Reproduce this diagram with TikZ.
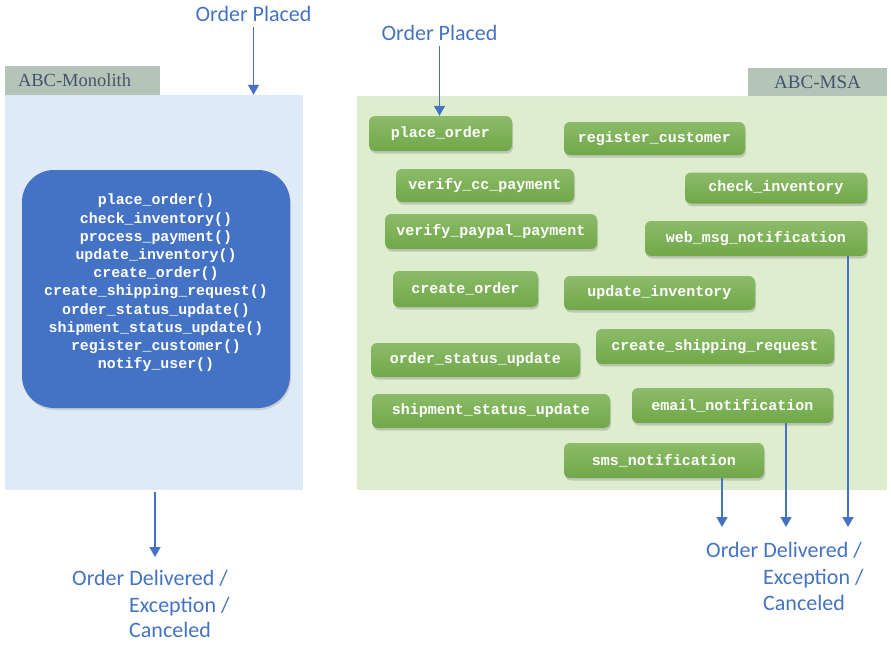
\documentclass[tikz,border=0pt]{standalone}
\usepackage{fontspec}
\setmainfont{Carlito}
\setmonofont{Liberation Mono}
\newfontfamily\tabfont{Liberation Serif}
\usetikzlibrary{arrows.meta,shadows}

\definecolor{panelblue}{RGB}{222,234,246}
\definecolor{panelgreen}{RGB}{222,237,205}
\definecolor{tabgray}{RGB}{181,196,185}
\definecolor{tabtext}{RGB}{68,84,106}
\definecolor{coreblue}{RGB}{68,114,196}
\definecolor{svcgreen}{RGB}{112,168,72}
\definecolor{svcgreentop}{RGB}{140,187,106}
\definecolor{flowblue}{RGB}{68,114,196}

\begin{document}
\begin{tikzpicture}[
  x=1pt,y=-1pt,
  panel/.style={inner sep=0pt},
  tab/.style={fill=tabgray,inner sep=0pt,text=tabtext,
    font=\tabfont\fontsize{18.5}{20}\selectfont},
  corebox/.style={fill=coreblue,rounded corners=32pt,
    drop shadow={shadow xshift=1pt,shadow yshift=-2pt,fill=black!30,opacity=.5}},
  service/.style={rounded corners=6pt,top color=svcgreentop,bottom color=svcgreen,
    drop shadow={shadow xshift=1pt,shadow yshift=-2.5pt,fill=black!35,opacity=.55},
    text=white,inner sep=0pt,font=\ttfamily\bfseries\fontsize{15}{16}\selectfont},
  flow/.style={draw=flowblue,line width=1.3pt,-{Triangle[width=11pt,length=10pt]}},
  event/.style={text=flowblue,inner sep=0pt,font=\fontsize{22}{26}\selectfont}]
  \useasboundingbox (0,0) rectangle (891,645);

% Monolith side
  \node[panel,fill=panelblue,minimum width=298pt,minimum height=395pt] (mono) at (154,292.5) {};
  \node[tab,minimum height=29pt,text width=129pt,inner xsep=13pt,align=left]
    (monotab) at (82.5,80.5) {ABC-Monolith};
  \node[corebox,minimum width=268pt,minimum height=238pt] (core) at (156,289) {};
  \node[text=white,align=center,font=\ttfamily\bfseries\fontsize{14.9}{18.2}\selectfont]
    (corefuncs) at (156,283) {place\_order()\\check\_inventory()\\process\_payment()\\
    update\_inventory()\\create\_order()\\create\_shipping\_request()\\
    order\_status\_update()\\shipment\_status\_update()\\register\_customer()\\
    notify\_user()};

  \node[event] (placed1) at (253.5,14) {Order Placed};
  \draw[flow,shorten <=5pt] (placed1.south) -- (placed1.south |- mono.north);

  \coordinate (end1) at (155,557);
  \draw[flow,shorten <=2pt] (mono.south -| end1) -- (end1);
  \node[event,anchor=west] (done1a) at (72,578) {Order Delivered /};
  \node[event,anchor=west] (done1b) at (129,607) {Exception /};
  \node[event,anchor=west] (done1c) at (129,630) {Canceled};

% Microservices side
  \node[panel,fill=panelgreen,minimum width=530pt,minimum height=394pt] (msa) at (622,293) {};
  \node[tab,minimum width=139pt,minimum height=28pt,
    font=\tabfont\fontsize{19}{21}\selectfont] (msatab) at (817.5,82) {ABC-MSA};

  % name / x / y / width / height / text
  \foreach \n/\x/\y/\w/\h/\t in {
    place/440.5/133.5/143/35/place\_order,
    regcust/654.5/138.5/181/33/register\_customer,
    ccpay/485/185.5/178/33/verify\_cc\_payment,
    checkinv/776/188/182/31/check\_inventory,
    paypal/491/231.5/212/35/verify\_paypal\_payment,
    webmsg/756/238.5/222/35/web\_msg\_notification,
    createord/465.5/289/145/36/create\_order,
    updinv/659.5/293/191/34/update\_inventory,
    shipreq/715/346.5/238/35/create\_shipping\_request,
    ordstat/475.5/360/209/34/order\_status\_update,
    shipstat/491/411/238/34/shipment\_status\_update,
    email/732.5/405.5/201/35/email\_notification,
    sms/664/460.5/200/35/sms\_notification}
    \node[service,minimum width=\w pt,minimum height=\h pt] (\n) at (\x,\y) {\t};

  \node[event] (placed2) at (439.5,33) {Order Placed};
  \draw[flow,shorten <=5pt] (placed2.south) -- (placed2.south |- place.north);

  \coordinate (end2a) at (722,527);
  \coordinate (end2b) at (786,527);
  \coordinate (end2c) at (848,527);
  \draw[flow] (sms.south -| end2a) -- (end2a);
  \draw[flow] (email.south -| end2b) -- (end2b);
  \draw[flow] (webmsg.south -| end2c) -- (end2c);
  \node[event,anchor=west] (done2a) at (706,550) {Order Delivered /};
  \node[event,anchor=west] (done2b) at (763,579) {Exception /};
  \node[event,anchor=west] (done2c) at (763,603) {Canceled};
\end{tikzpicture}
\end{document}
